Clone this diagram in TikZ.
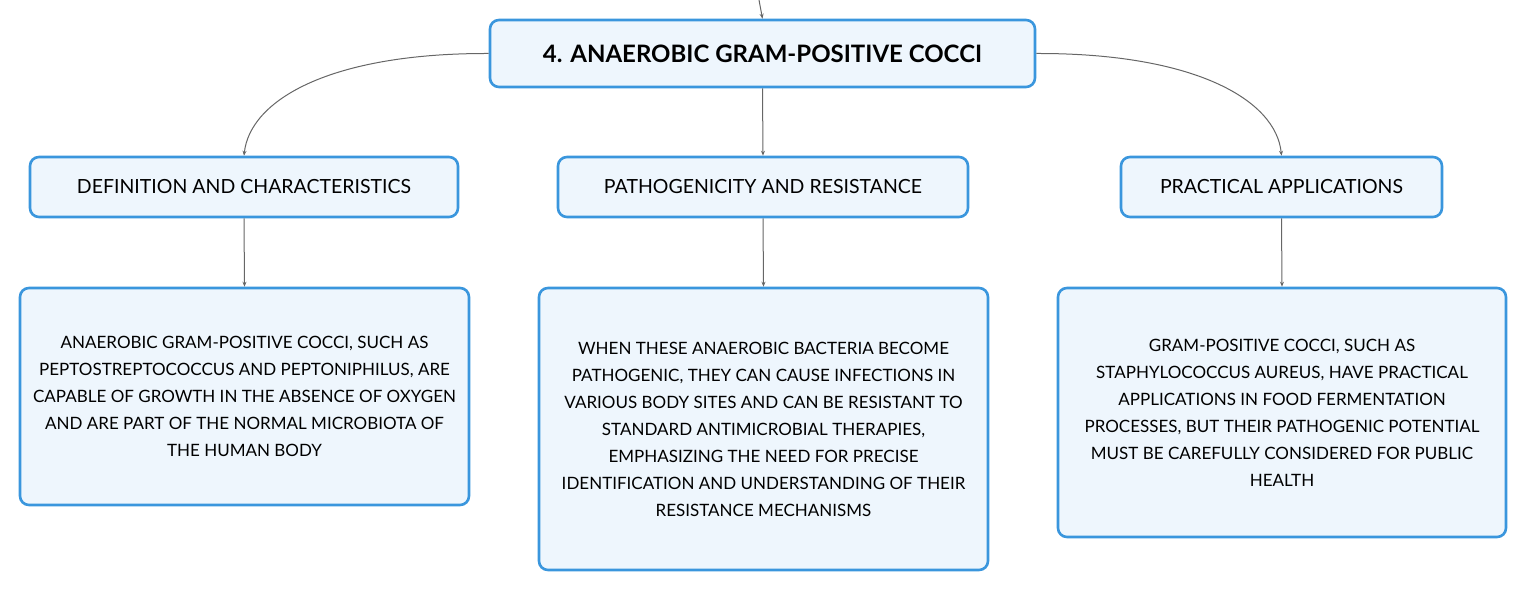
\documentclass[tikz,border=0pt]{standalone}
\usepackage{fontspec}
\setmainfont{Lato}
\usetikzlibrary{arrows.meta}
\definecolor{bord}{HTML}{3A96DD}
\definecolor{fillc}{HTML}{EEF6FD}
\definecolor{linec}{HTML}{666666}
\tikzset{
  box/.style={draw=bord, fill=fillc, line width=2.6pt, rounded corners=9pt, inner sep=0pt, align=center},
  roottxt/.style={font=\fontsize{24}{28}\selectfont\bfseries},
  headtxt/.style={font=\fontsize{19.5}{24}\selectfont},
  bodytxt/.style={font=\fontsize{17}{27}\selectfont},
  conn/.style={draw=linec, line width=1pt, -{Stealth[length=5pt,width=4pt]}}
}
\begin{document}
\begin{tikzpicture}[x=1pt,y=-1pt]
\useasboundingbox (0,0) rectangle (1527,591);
\node[box, roottxt, minimum width=545pt, minimum height=67pt] (root) at (762.5,53.5) {4. ANAEROBIC GRAM-POSITIVE COCCI};
\node[box, headtxt, minimum width=428pt, minimum height=60pt] (def) at (244,187) {DEFINITION AND CHARACTERISTICS};
\node[box, headtxt, minimum width=410pt, minimum height=60pt] (path) at (763,187) {PATHOGENICITY AND RESISTANCE};
\node[box, headtxt, minimum width=321pt, minimum height=60pt] (prac) at (1281.5,187) {PRACTICAL APPLICATIONS};
\node[box, bodytxt, minimum width=449pt, minimum height=217pt] (defb) at (244.5,396.5) {ANAEROBIC GRAM-POSITIVE COCCI, SUCH AS\\PEPTOSTREPTOCOCCUS AND PEPTONIPHILUS, ARE\\CAPABLE OF GROWTH IN THE ABSENCE OF OXYGEN\\AND ARE PART OF THE NORMAL MICROBIOTA OF\\THE HUMAN BODY};
\node[box, bodytxt, minimum width=449pt, minimum height=282pt] (pathb) at (763.5,429) {WHEN THESE ANAEROBIC BACTERIA BECOME\\PATHOGENIC, THEY CAN CAUSE INFECTIONS IN\\VARIOUS BODY SITES AND CAN BE RESISTANT TO\\STANDARD ANTIMICROBIAL THERAPIES,\\EMPHASIZING THE NEED FOR PRECISE\\IDENTIFICATION AND UNDERSTANDING OF THEIR\\RESISTANCE MECHANISMS};
\node[box, bodytxt, minimum width=448pt, minimum height=249pt] (pracb) at (1282,412.5) {GRAM-POSITIVE COCCI, SUCH AS\\STAPHYLOCOCCUS AUREUS, HAVE PRACTICAL\\APPLICATIONS IN FOOD FERMENTATION\\PROCESSES, BUT THEIR PATHOGENIC POTENTIAL\\MUST BE CAREFULLY CONSIDERED FOR PUBLIC\\HEALTH};
\coordinate (top) at (759,0);
\draw[conn] (top) -- (root.north);
\draw[conn] (root.south) -- (path.north);
\draw[conn] (root.west) .. controls (330,53) and (250,100) .. (def.north);
\draw[conn] (root.east) .. controls (1195,53) and (1276,100) .. (prac.north);
\draw[conn] (def.south) -- (defb.north);
\draw[conn] (path.south) -- (pathb.north);
\draw[conn] (prac.south) -- (pracb.north);
\end{tikzpicture}
\end{document}
